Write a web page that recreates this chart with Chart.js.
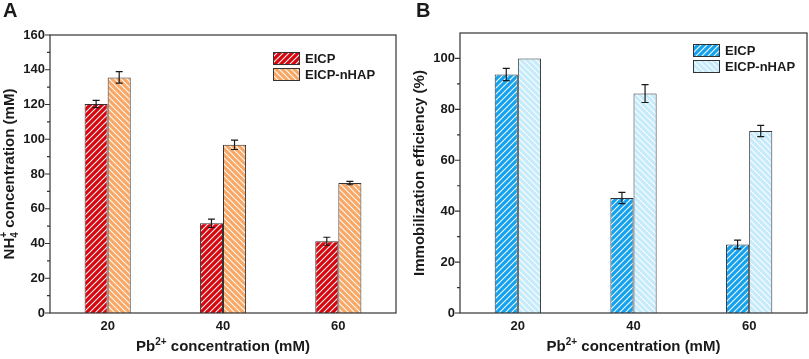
<!DOCTYPE html>
<html>
<head>
<meta charset="utf-8">
<script src="https://cdn.jsdelivr.net/npm/chart.js@4.4.1/dist/chart.umd.min.js"></script>
<style>
  html, body { margin: 0; padding: 0; background: #fff; }
  #wrap { position: relative; width: 809px; height: 359px; }
  .panel { position: absolute; top: 0; height: 359px; }
  #panelA { left: 0; width: 404px; }
  #panelB { left: 404px; width: 405px; }
</style>
</head>
<body>
<div id="wrap">
  <div class="panel" id="panelA"><canvas id="chartA" width="404" height="359"></canvas></div>
  <div class="panel" id="panelB"><canvas id="chartB" width="405" height="359"></canvas></div>
</div>
<script>
// Data
const pbLevels = ["20", "40", "60"];
const seriesNames = ["EICP", "EICP-nHAP"];

// Panel A: NH4+ concentration (mM)
const ammoniumEICP = [120.3, 51.6, 41.3];
const ammoniumEICPErr = [2.1, 2.4, 2.3];
const ammoniumNHAP = [135.6, 96.8, 74.8];
const ammoniumNHAPErr = [3.3, 2.7, 1.0];
const ammoniumTicks = [0, 20, 40, 60, 80, 100, 120, 140, 160];

// Panel B: immobilization efficiency (%)
const immobEICP = [93.7, 45.2, 26.9];
const immobEICPErr = [2.4, 2.2, 1.7];
const immobNHAP = [100, 86.2, 71.5];
const immobNHAPErr = [0, 3.5, 2.2];
const immobTicks = [0, 20, 40, 60, 80, 100];

const FONT = "'Liberation Sans', Arial, sans-serif";
const INK = "#1a1a1a";

// hatch pattern: white diagonal lines over a fill colour
function makeHatch(fill, forward) {
  const size = 6;
  const c = document.createElement("canvas");
  c.width = size;
  c.height = size;
  const g = c.getContext("2d");
  g.fillStyle = fill;
  g.fillRect(0, 0, size, size);
  g.strokeStyle = "rgba(255,255,255,0.95)";
  g.lineWidth = 1.1;
  g.beginPath();
  if (forward) {
    g.moveTo(-1, size + 1); g.lineTo(size + 1, -1);
    g.moveTo(-1, 1); g.lineTo(1, -1);
    g.moveTo(size - 1, size + 1); g.lineTo(size + 1, size - 1);
  } else {
    g.moveTo(-1, -1); g.lineTo(size + 1, size + 1);
    g.moveTo(size - 1, -1); g.lineTo(size + 1, 1);
    g.moveTo(-1, size - 1); g.lineTo(1, size + 1);
  }
  g.stroke();
  return g.createPattern(c, "repeat");
}

// error bars on top of each bar
const errorBars = {
  id: "errorBars",
  afterDatasetsDraw(chart) {
    const ctx = chart.ctx;
    const yScale = chart.scales.y;
    chart.data.datasets.forEach((ds, i) => {
      const meta = chart.getDatasetMeta(i);
      meta.data.forEach((bar, j) => {
        const err = ds.errors[j];
        if (!err) return;
        const v = ds.data[j];
        const top = yScale.getPixelForValue(v + err);
        const bottom = yScale.getPixelForValue(v - err);
        ctx.save();
        ctx.strokeStyle = INK;
        ctx.lineWidth = 1.2;
        ctx.beginPath();
        ctx.moveTo(bar.x, top); ctx.lineTo(bar.x, bottom);
        ctx.moveTo(bar.x - 3.5, top); ctx.lineTo(bar.x + 3.5, top);
        ctx.moveTo(bar.x - 3.5, bottom); ctx.lineTo(bar.x + 3.5, bottom);
        ctx.stroke();
        ctx.restore();
      });
    });
  }
};

// draws a run of text pieces [{t, size, dy, stack}] centred on cx
function drawRich(ctx, parts, cx, cy) {
  const widths = parts.map((p) => {
    ctx.font = "bold " + p.size + "px " + FONT;
    return ctx.measureText(p.t).width;
  });
  let total = 0;
  parts.forEach((p, k) => {
    if (p.stack) total += Math.max(0, widths[k] - widths[k - 1]);
    else total += widths[k];
  });
  let x = cx - total / 2;
  let lastX = x;
  parts.forEach((p, k) => {
    ctx.font = "bold " + p.size + "px " + FONT;
    if (p.stack) {
      ctx.fillText(p.t, lastX, cy + p.dy);
      x = Math.max(x, lastX + widths[k]);
    } else {
      ctx.fillText(p.t, x, cy + p.dy);
      lastX = x;
      x += widths[k];
    }
  });
}

// frame, minor ticks, axis titles, panel letter, legend
const decor = {
  id: "decor",
  afterDraw(chart, args, opts) {
    const ctx = chart.ctx;
    const area = chart.chartArea;
    const yScale = chart.scales.y;
    ctx.save();

    // frame
    ctx.strokeStyle = "#333";
    ctx.lineWidth = 1.2;
    ctx.strokeRect(area.left, area.top, area.right - area.left, area.bottom - area.top);

    // major + minor ticks on the left axis
    ctx.beginPath();
    opts.ticks.forEach((v, k) => {
      const y = yScale.getPixelForValue(v);
      ctx.moveTo(area.left - 5, y); ctx.lineTo(area.left, y);
      if (k < opts.ticks.length - 1) {
        const ym = yScale.getPixelForValue((v + opts.ticks[k + 1]) / 2);
        ctx.moveTo(area.left - 3, ym); ctx.lineTo(area.left, ym);
      }
    });
    ctx.stroke();

    ctx.fillStyle = INK;
    ctx.textBaseline = "alphabetic";
    ctx.textAlign = "left";

    // x title
    drawRich(ctx, [
      { t: "Pb", size: 15, dy: 0 },
      { t: "2+", size: 10, dy: -6 },
      { t: " concentration (mM)", size: 15, dy: 0 }
    ], (area.left + area.right) / 2, 351);

    // y title
    ctx.save();
    ctx.translate(opts.yTitleX, (area.top + area.bottom) / 2);
    ctx.rotate(-Math.PI / 2);
    drawRich(ctx, opts.yTitle, 0, 0);
    ctx.restore();

    // panel letter
    ctx.font = "bold 20px " + FONT;
    ctx.fillText(opts.letter, opts.letterX, 17);

    // legend
    chart.data.datasets.forEach((ds, i) => {
      const bx = opts.legendX;
      const by = opts.legendY + i * 16;
      ctx.fillStyle = ds.backgroundColor;
      ctx.fillRect(bx, by, 27, 13);
      ctx.strokeStyle = "#333";
      ctx.lineWidth = 1;
      ctx.strokeRect(bx + 0.5, by + 0.5, 26, 12);
      ctx.fillStyle = INK;
      ctx.font = "bold 13px " + FONT;
      ctx.textBaseline = "middle";
      ctx.fillText(ds.label, bx + 32, by + 7);
      ctx.textBaseline = "alphabetic";
    });
    ctx.restore();
  }
};

function buildChart(id, cfg) {
  const ctx = document.getElementById(id).getContext("2d");
  return new Chart(ctx, {
    type: "bar",
    data: {
      labels: pbLevels,
      datasets: [
        {
          label: seriesNames[0],
          data: cfg.first,
          errors: cfg.firstErr,
          backgroundColor: makeHatch(cfg.colors[0], true),
          borderColor: "#333",
          borderWidth: 1,
          categoryPercentage: 0.4,
          barPercentage: 1.0
        },
        {
          label: seriesNames[1],
          data: cfg.second,
          errors: cfg.secondErr,
          backgroundColor: makeHatch(cfg.colors[1], false),
          borderColor: "#333",
          borderWidth: 1,
          categoryPercentage: 0.4,
          barPercentage: 1.0
        }
      ]
    },
    options: {
      responsive: false,
      animation: false,
      layout: { padding: { top: cfg.top, right: cfg.right, left: 0, bottom: 0 } },
      plugins: {
        legend: { display: false },
        tooltip: { enabled: false },
        decor: cfg.decor
      },
      scales: {
        x: {
          grid: { display: false, drawTicks: false },
          border: { display: false },
          ticks: { color: INK, font: { family: FONT, size: 13, weight: "bold" }, padding: 6 },
          afterFit: (s) => { s.height = 46; }
        },
        y: {
          min: 0,
          max: cfg.max,
          afterBuildTicks: (s) => { s.ticks = cfg.decor.ticks.map((v) => ({ value: v })); },
          grid: { display: false, drawTicks: false },
          border: { display: false },
          ticks: { color: INK, font: { family: FONT, size: 13, weight: "bold" }, padding: 5 },
          afterFit: (s) => { s.width = cfg.axisLeft; }
        }
      }
    },
    plugins: [errorBars, decor]
  });
}

buildChart("chartA", {
  first: ammoniumEICP, firstErr: ammoniumEICPErr,
  second: ammoniumNHAP, secondErr: ammoniumNHAPErr,
  colors: ["#d6060e", "#f9a764"],
  max: 160, top: 35, right: 8, axisLeft: 50,
  decor: {
    ticks: ammoniumTicks,
    letter: "A", letterX: 3,
    legendX: 273, legendY: 52,
    yTitleX: 14,
    yTitle: [
      { t: "NH", size: 15, dy: 0 },
      { t: "4", size: 10, dy: 4 },
      { t: "+", size: 10, dy: -7, stack: true },
      { t: " concentration (mM)", size: 15, dy: 0 }
    ]
  }
});

buildChart("chartB", {
  first: immobEICP, firstErr: immobEICPErr,
  second: immobNHAP, secondErr: immobNHAPErr,
  colors: ["#14a2ef", "#c6ebfa"],
  max: 110, top: 33, right: 2, axisLeft: 56,
  decor: {
    ticks: immobTicks,
    letter: "B", letterX: 12,
    legendX: 289, legendY: 44,
    yTitleX: 20,
    yTitle: [
      { t: "Immobilization efficiency (%)", size: 15, dy: 0 }
    ]
  }
});
</script>
</body>
</html>
